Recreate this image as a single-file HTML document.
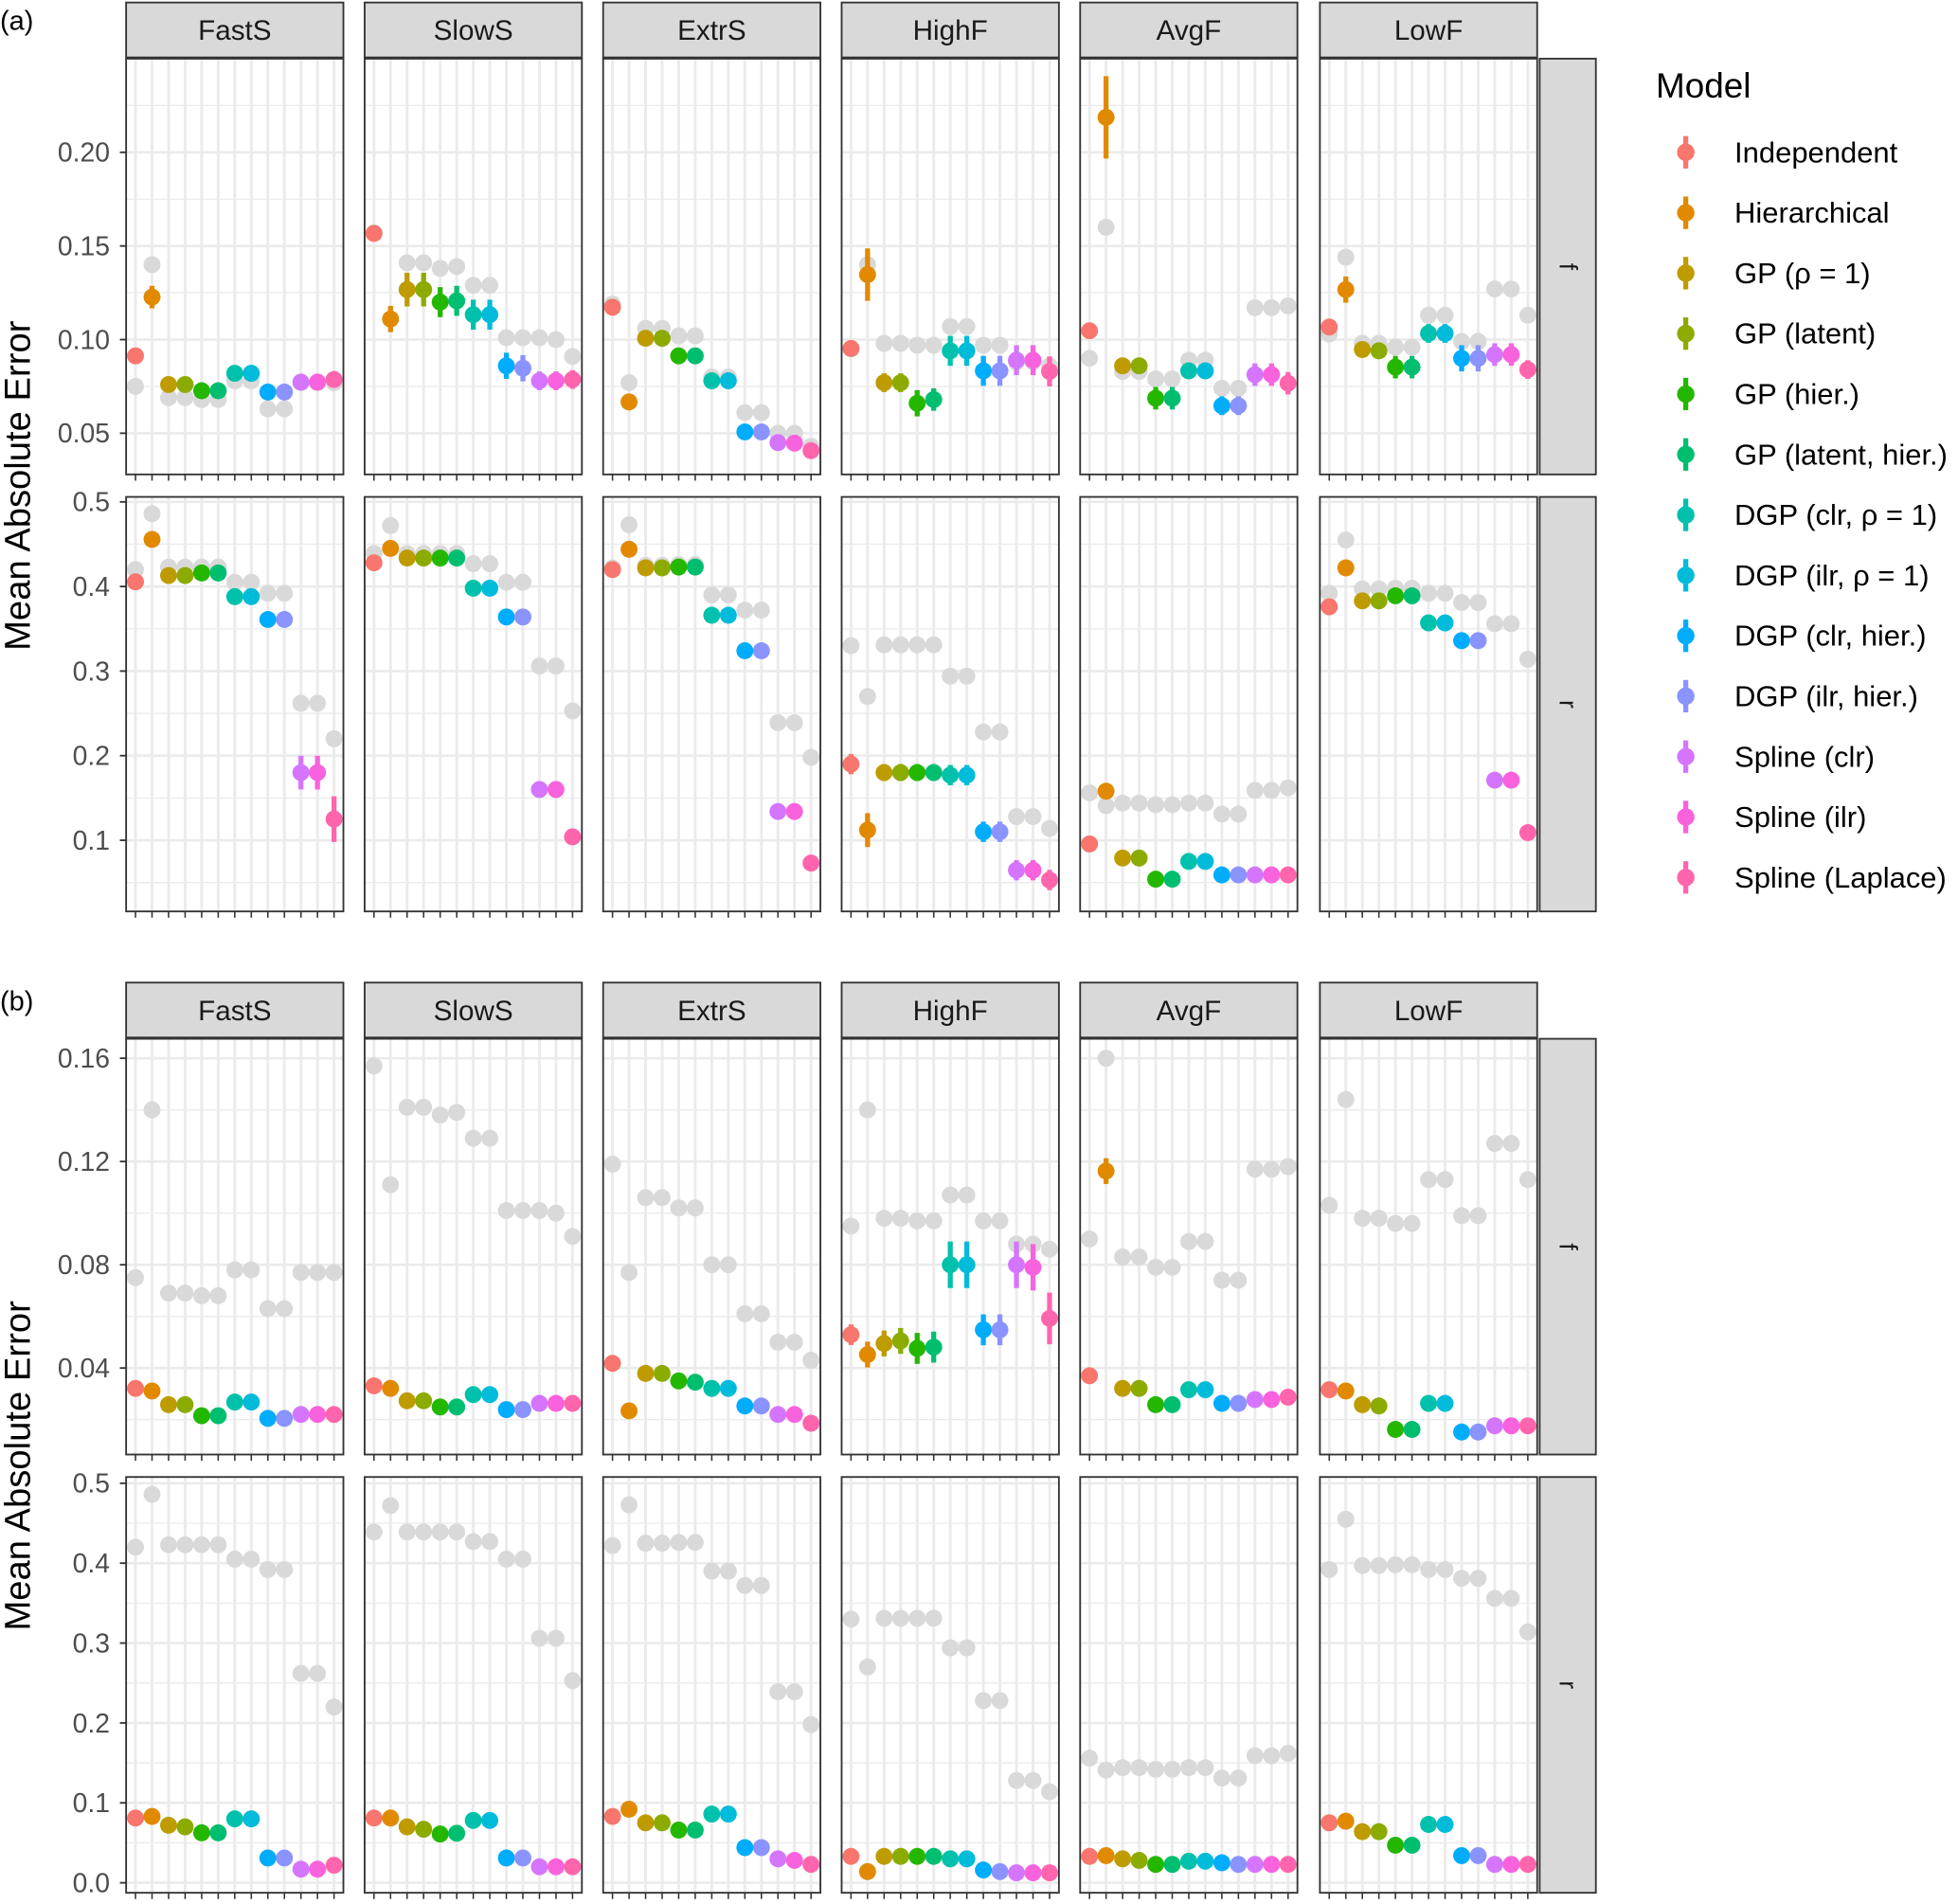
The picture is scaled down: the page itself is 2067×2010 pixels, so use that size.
<!DOCTYPE html>
<html><head><meta charset="utf-8"><style>
html,body{margin:0;padding:0;background:#fff;}
svg{display:block;font-family:"Liberation Sans",Arial,sans-serif;}
</style></head><body>
<svg id="chart" width="2067" height="2010" viewBox="0 0 1568 1525" preserveAspectRatio="none" xmlns="http://www.w3.org/2000/svg"></svg>
<script>
const models=["Independent","Hierarchical","GP (\u03c1 = 1)","GP (latent)","GP (hier.)","GP (latent, hier.)","DGP (clr, \u03c1 = 1)","DGP (ilr, \u03c1 = 1)","DGP (clr, hier.)","DGP (ilr, hier.)","Spline (clr)","Spline (ilr)","Spline (Laplace)"];
const colors=["#F8766D","#E18A00","#BE9C00","#8CAB00","#24B700","#00BE70","#00C1AB","#00BBDA","#00ACFC","#8B93FF","#D575FE","#F962DD","#FF65AC"];
const facets=["FastS","SlowS","ExtrS","HighF","AvgF","LowF"];
const ticksF_a=[0.05,0.10,0.15,0.20];
const ticksR=[0.1,0.2,0.3,0.4,0.5];
const ticksF_b=[0.04,0.08,0.12,0.16];
const ticksR_b=[0.0,0.1,0.2,0.3,0.4,0.5];
const greyF=[
[0.075,0.140,0.069,0.069,0.068,0.068,0.078,0.078,0.063,0.063,0.077,0.077,0.077],
[0.157,0.111,0.141,0.141,0.138,0.139,0.129,0.129,0.101,0.101,0.101,0.100,0.091],
[0.119,0.077,0.106,0.106,0.102,0.102,0.080,0.080,0.061,0.061,0.050,0.050,0.043],
[0.095,0.140,0.098,0.098,0.097,0.097,0.107,0.107,0.097,0.097,0.088,0.088,0.086],
[0.090,0.160,0.083,0.083,0.079,0.079,0.089,0.089,0.074,0.074,0.117,0.117,0.118],
[0.103,0.144,0.098,0.098,0.096,0.096,0.113,0.113,0.099,0.099,0.127,0.127,0.113]];
const greyR=[
[0.420,0.486,0.423,0.423,0.423,0.423,0.405,0.405,0.392,0.392,0.262,0.262,0.220],
[0.439,0.472,0.439,0.439,0.439,0.439,0.427,0.427,0.405,0.405,0.306,0.306,0.253],
[0.422,0.473,0.425,0.425,0.426,0.426,0.390,0.390,0.372,0.372,0.239,0.239,0.198],
[0.330,0.270,0.331,0.331,0.331,0.331,0.294,0.294,0.228,0.228,0.128,0.128,0.114],
[0.156,0.141,0.144,0.144,0.142,0.142,0.144,0.144,0.131,0.131,0.159,0.159,0.162],
[0.392,0.455,0.397,0.397,0.398,0.398,0.392,0.392,0.381,0.381,0.356,0.356,0.314]];
const aF=[
[0.0913,0.1227,0.076,0.076,0.0727,0.0727,0.082,0.082,0.072,0.072,0.0773,0.0773,0.0787],
[0.1567,0.111,0.1267,0.1267,0.120,0.1207,0.1133,0.1133,0.086,0.0847,0.078,0.078,0.0787],
[0.1173,0.0667,0.1007,0.1007,0.0913,0.0913,0.078,0.078,0.0507,0.0507,0.045,0.0447,0.0407],
[0.0953,0.1347,0.077,0.077,0.066,0.068,0.094,0.094,0.0833,0.0833,0.089,0.089,0.083],
[0.1047,0.2187,0.086,0.086,0.0687,0.0687,0.0833,0.0833,0.0647,0.0647,0.0813,0.0813,0.0767],
[0.1067,0.1267,0.0947,0.094,0.0853,0.0853,0.1033,0.1033,0.090,0.090,0.092,0.092,0.084]];
const aFerr=[
[0.003,0.006,0.003,0.003,0.003,0.003,0.003,0.003,0.003,0.003,0.004,0.004,0.004],
[0.004,0.007,0.009,0.009,0.008,0.008,0.008,0.008,0.007,0.007,0.005,0.005,0.005],
[0.003,0.003,0.003,0.003,0.003,0.003,0.003,0.003,0.003,0.003,0.003,0.003,0.003],
[0.003,0.014,0.005,0.005,0.007,0.006,0.008,0.008,0.008,0.008,0.008,0.008,0.008],
[0.004,0.022,0.003,0.003,0.006,0.006,0.004,0.004,0.005,0.005,0.006,0.006,0.006],
[0.003,0.007,0.004,0.004,0.006,0.006,0.005,0.005,0.007,0.007,0.006,0.006,0.005]];
const aR=[
[0.4055,0.4557,0.413,0.413,0.416,0.416,0.388,0.388,0.361,0.361,0.180,0.180,0.125],
[0.428,0.445,0.4336,0.4336,0.4336,0.4336,0.398,0.398,0.364,0.364,0.160,0.160,0.104],
[0.420,0.444,0.422,0.422,0.423,0.423,0.366,0.366,0.324,0.324,0.134,0.134,0.073],
[0.190,0.112,0.180,0.180,0.180,0.180,0.177,0.177,0.110,0.110,0.0646,0.0646,0.053],
[0.0956,0.158,0.079,0.079,0.054,0.054,0.075,0.075,0.059,0.059,0.059,0.059,0.059],
[0.376,0.422,0.383,0.383,0.389,0.389,0.357,0.357,0.336,0.336,0.171,0.171,0.109]];
const aRerr=[
[0.008,0.008,0.006,0.006,0.006,0.006,0.006,0.006,0.006,0.006,0.02,0.02,0.027],
[0.006,0.006,0.006,0.006,0.006,0.006,0.006,0.006,0.006,0.006,0.006,0.006,0.006],
[0.006,0.006,0.006,0.006,0.006,0.006,0.006,0.006,0.006,0.006,0.006,0.006,0.006],
[0.012,0.02,0.01,0.01,0.01,0.01,0.012,0.012,0.012,0.012,0.012,0.012,0.012],
[0.006,0.006,0.006,0.006,0.006,0.006,0.006,0.006,0.006,0.006,0.006,0.006,0.006],
[0.006,0.006,0.006,0.006,0.006,0.006,0.006,0.006,0.006,0.006,0.006,0.006,0.006]];
const bF=[
[0.0321,0.0311,0.0258,0.0258,0.0215,0.0215,0.0268,0.0268,0.0205,0.0205,0.022,0.022,0.022],
[0.0331,0.0321,0.0273,0.0273,0.0249,0.0249,0.0297,0.0297,0.0239,0.0239,0.0263,0.0263,0.0263],
[0.0418,0.0234,0.0379,0.0379,0.035,0.0345,0.0321,0.0321,0.0253,0.0253,0.022,0.022,0.0186],
[0.0529,0.0452,0.0495,0.0505,0.0476,0.0481,0.080,0.080,0.0548,0.0548,0.080,0.079,0.0592],
[0.037,0.1163,0.0321,0.0321,0.0258,0.0258,0.0316,0.0316,0.0263,0.0263,0.0278,0.0278,0.0287],
[0.0316,0.0311,0.0258,0.0253,0.0162,0.0162,0.0263,0.0263,0.0152,0.0152,0.0176,0.0176,0.0176]];
const bFerr=[
[0.002,0.002,0.002,0.002,0.002,0.002,0.002,0.002,0.002,0.002,0.002,0.002,0.002],
[0.002,0.002,0.002,0.002,0.002,0.002,0.002,0.002,0.002,0.002,0.002,0.002,0.002],
[0.002,0.002,0.002,0.002,0.002,0.002,0.002,0.002,0.002,0.002,0.002,0.002,0.002],
[0.004,0.005,0.005,0.005,0.006,0.006,0.009,0.009,0.006,0.006,0.009,0.009,0.01],
[0.002,0.005,0.002,0.002,0.002,0.002,0.002,0.002,0.002,0.002,0.002,0.002,0.002],
[0.002,0.002,0.002,0.002,0.002,0.002,0.002,0.002,0.002,0.002,0.002,0.002,0.002]];
const bR=[
[0.081,0.083,0.072,0.070,0.0625,0.0625,0.080,0.080,0.031,0.031,0.017,0.017,0.022],
[0.081,0.081,0.070,0.067,0.061,0.062,0.078,0.078,0.031,0.031,0.020,0.020,0.020],
[0.083,0.092,0.075,0.075,0.066,0.066,0.086,0.086,0.044,0.044,0.030,0.028,0.023],
[0.033,0.014,0.033,0.033,0.033,0.033,0.030,0.030,0.016,0.014,0.0125,0.0125,0.0125],
[0.033,0.034,0.030,0.028,0.023,0.023,0.027,0.027,0.025,0.023,0.023,0.023,0.023],
[0.075,0.077,0.064,0.064,0.047,0.047,0.073,0.073,0.034,0.034,0.023,0.023,0.023]];

const NS="http://www.w3.org/2000/svg";
const svg=document.getElementById("chart");
function mk(tag,attrs,parent,text){const e=document.createElementNS(NS,tag);for(const k in attrs)e.setAttribute(k,attrs[k]);if(text!==undefined)e.textContent=text;(parent||svg).appendChild(e);return e;}

const panelLefts=[101,292,483,674,865,1057];
const PW=174;
function xPos(f,i){return panelLefts[f]+7.5+i*13.25;}
function yScale(y0,y1,v0,v1){return v=>y0+(v-v0)*(y1-y0)/(v1-v0);}

const rowsDef=[
 {top:47,bot:380,sc:yScale(272,347,0.10,0.05),ticks:ticksF_a,fmt:2,minStep:0.025,grey:greyF,val:aF,err:aFerr,lab:"f",name:"a-f"},
 {top:398,bot:730,sc:yScale(673,402,0.1,0.5),ticks:ticksR,fmt:1,minStep:0.05,grey:greyR,val:aR,err:aRerr,lab:"r",name:"a-r"},
 {top:832,bot:1165,sc:yScale(1013,1095.7,0.08,0.04),ticks:ticksF_b,fmt:2,minStep:0.02,grey:greyF,val:bF,err:bFerr,lab:"f",name:"b-f"},
 {top:1183,bot:1516,sc:yScale(1508,1188,0.0,0.5),ticks:ticksR_b,fmt:1,minStep:0.05,grey:greyR,val:bR,err:null,lab:"r",name:"b-r"}
];

function drawRow(r){
  const g=mk("g",{});
  
  
  r.ticks.forEach(t=>{
    const y=r.sc(t);
    mk("line",{x1:96,x2:101,y1:y,y2:y,stroke:"#333","stroke-width":1.4},g);
    const tl=mk("text",{x:88,y:y+7.5,"text-anchor":"end","font-size":21.5,fill:"#4d4d4d"},g,t.toFixed(r.fmt));
    
    
  });
  for(let f=0;f<6;f++){
    const L=panelLefts[f];
    const p=mk("g",{},g);
    
    
    mk("rect",{x:L,y:r.top,width:PW,height:r.bot-r.top,fill:"#fff"},p);
    for(let v=-0.1;v<=0.6;v+=r.minStep){
      const vv=Math.round(v*1000)/1000;
      const y=r.sc(vv);
      if(y<r.top||y>r.bot)continue;
      const isMaj=r.ticks.some(t=>Math.abs(t-vv)<1e-6);
      mk("line",{x1:L,x2:L+PW,y1:y,y2:y,stroke:"#ebebeb","stroke-width":isMaj?2:1},p);
    }
    for(let i=0;i<13;i++){
      const x=xPos(f,i);
      mk("line",{x1:x,x2:x,y1:r.top,y2:r.bot,stroke:"#ebebeb","stroke-width":2.2},p);
      mk("line",{x1:x,x2:x,y1:r.bot,y2:r.bot+5,stroke:"#333","stroke-width":1.2},p);
    }
    r.grey[f].forEach((v,i)=>{
      const c=mk("circle",{cx:xPos(f,i),cy:r.sc(v),r:6.8,fill:"#d9d9d9"},p);
      
      
    });
    r.val[f].forEach((v,i)=>{
      const x=xPos(f,i),y=r.sc(v);
      if(r.err){
        const e=r.err[f][i];
        const eb=mk("line",{x1:x,x2:x,y1:r.sc(v+e),y2:r.sc(v-e),stroke:colors[i],"stroke-width":4},p);
        
        
      }
      const c=mk("circle",{cx:x,cy:y,r:6.8,fill:colors[i]},p);
      
      
    });
    mk("rect",{x:L,y:r.top,width:PW,height:r.bot-r.top,fill:"none",stroke:"#333","stroke-width":1.4},p);
  }
  const rs=mk("rect",{x:1233,y:r.top,width:45,height:r.bot-r.top,fill:"#d9d9d9",stroke:"#333","stroke-width":1.4},g);
  
  
  const cy=(r.top+r.bot)/2;
  mk("text",{x:1256,y:cy,"text-anchor":"middle","font-size":20,fill:"#1a1a1a",transform:`rotate(90 1256 ${cy}) translate(0 7)`},g,r.lab);
}

function drawStrips(y){
  for(let f=0;f<6;f++){
    const L=panelLefts[f];
    const s=mk("rect",{x:L,y:y,width:PW,height:44,fill:"#d9d9d9",stroke:"#333","stroke-width":1.4});
    
    
    mk("text",{x:L+PW/2,y:y+30,"text-anchor":"middle","font-size":22.5,fill:"#1a1a1a"},svg,facets[f]);
  }
}
drawStrips(2);
drawStrips(787);
rowsDef.forEach(drawRow);

const la=mk("text",{x:0,y:24,"font-size":22,fill:"#000"},svg,"(a)");

const lb=mk("text",{x:0,y:809,"font-size":22,fill:"#000"},svg,"(b)");

[389,1174].forEach(cy=>{
  const t=mk("text",{x:24,y:cy,"text-anchor":"middle","font-size":29,fill:"#000",transform:`rotate(-90 24 ${cy})`},svg,"Mean Absolute Error");
  
  
});

const lg=mk("g",{});


mk("text",{x:1326,y:78,"font-size":28,fill:"#000"},lg,"Model");
models.forEach((m,i)=>{
  const y=122+i*48.4;
  const e=mk("g",{},lg);
  
  
  mk("line",{x1:1350,x2:1350,y1:y-13,y2:y+13,stroke:colors[i],"stroke-width":4},e);
  mk("circle",{cx:1350,cy:y,r:7,fill:colors[i]},e);
  mk("text",{x:1389,y:y+8,"font-size":23.5,fill:"#000"},e,m);
});
</script>
</body></html>
